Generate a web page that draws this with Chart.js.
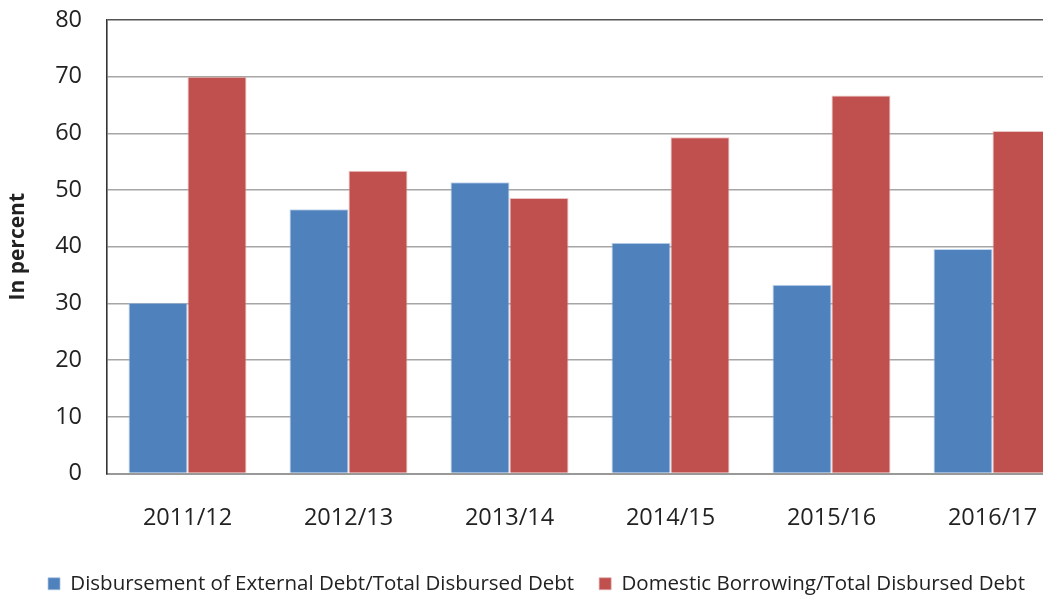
<!DOCTYPE html>
<html>
    <head>
        <style>
            body { margin: 0; background: #fff; }
            #clip { width: 1043px; height: 596px; overflow: hidden; }
            #wrap { width: 1078px; height: 596px; position: relative; }
        </style>
    </head>
    <body>
        <script src="https://cdn.jsdelivr.net/npm/chart.js@4.4.0/dist/chart.umd.min.js"></script>
        <div id="clip">
            <div id="wrap">
                <canvas id="barchart"></canvas>
            </div>
        </div>
        <script>
            const years = ["2011/12", "2012/13", "2013/14", "2014/15", "2015/16", "2016/17"];
            const externalShare = [30.1, 46.6, 51.4, 40.7, 33.3, 39.6];
            const domesticShare = [70.0, 53.4, 48.6, 59.3, 66.7, 60.4];
            const seriesNames = [
                "Disbursement of External Debt/Total Disbursed Debt",
                "Domestic Borrowing/Total Disbursed Debt"
            ];
            const yTicks = [0, 10, 20, 30, 40, 50, 60, 70, 80];

            const fontFamily = "'Open Sans', 'DejaVu Sans', sans-serif";
            const textColour = "#222";

            let chart = new Chart(document.getElementById("barchart"), {
                type: "bar",
                data: {
                    labels: years,
                    datasets: [
                        {
                            label: seriesNames[0],
                            data: externalShare,
                            backgroundColor: "#4f81bd",
                            borderColor: "rgba(170,195,225,0.7)",
                            borderWidth: 1
                        },
                        {
                            label: seriesNames[1],
                            data: domesticShare,
                            backgroundColor: "#c0504d",
                            borderColor: "rgba(225,170,170,0.7)",
                            borderWidth: 1
                        }
                    ]
                },
                options: {
                    responsive: true,
                    maintainAspectRatio: false,
                    animation: false,
                    layout: { padding: { left: 0, right: 5, top: 0, bottom: -8 } },
                    datasets: {
                        bar: { categoryPercentage: 0.733, barPercentage: 1.0 }
                    },
                    plugins: {
                        tooltip: { enabled: false },
                        legend: {
                            position: "bottom",
                            labels: {
                                color: textColour,
                                font: { family: fontFamily, size: 20.5 },
                                boxWidth: 12,
                                boxHeight: 12,
                                padding: 25
                            }
                        }
                    },
                    scales: {
                        x: {
                            grid: { display: false, drawTicks: false },
                            border: { display: true, color: "#999", width: 2 },
                            ticks: {
                                color: textColour,
                                font: { family: fontFamily, size: 23.5 },
                                padding: 31,
                                maxRotation: 0
                            },
                            afterFit: function(scale) { scale.height = 75; }
                        },
                        y: {
                            min: 0,
                            max: 80,
                            afterBuildTicks: function(scale) {
                                scale.ticks = yTicks.map(v => ({ value: v }));
                            },
                            grid: {
                                drawTicks: false,
                                lineWidth: 1.6,
                                color: function(ctx) {
                                    return ctx.tick && ctx.tick.value === 80 ? "#555" : "#a6a6a6";
                                }
                            },
                            border: { display: true, color: "#333", width: 1.6 },
                            ticks: {
                                color: textColour,
                                font: { family: fontFamily, size: 23.5 },
                                padding: 25
                            },
                            title: {
                                display: true,
                                text: "In percent",
                                color: textColour,
                                font: { family: fontFamily, size: 21, weight: "bold" },
                                padding: { top: 5, bottom: 0 }
                            },
                            afterFit: function(scale) {
                                scale.width = 107;
                                // tick padding also pads the top; keep the plot top at 20px
                                scale.paddingTop = 20;
                                scale.paddingBottom = 14;
                            }
                        }
                    }
                }
            });
        </script>
    </body>
</html>
